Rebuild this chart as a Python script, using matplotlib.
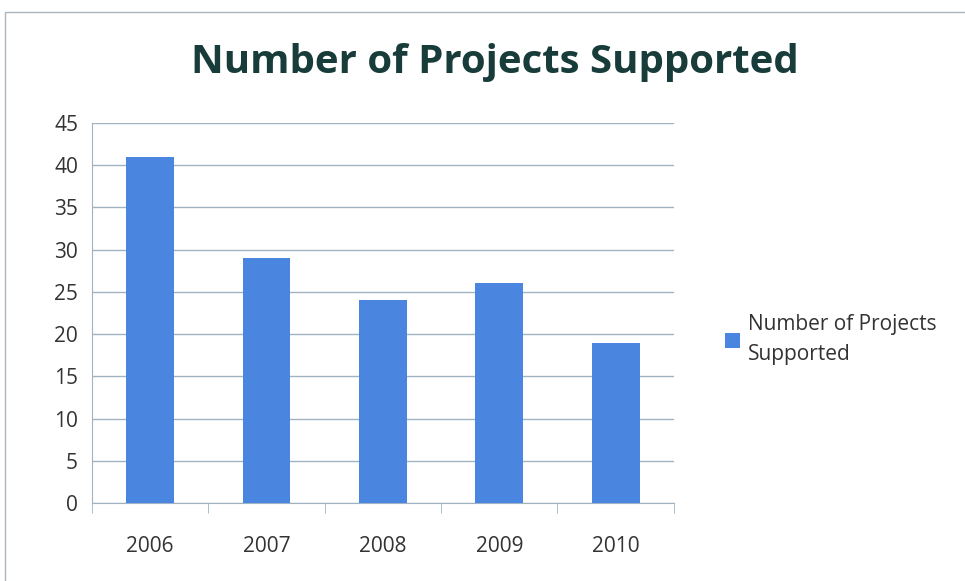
import matplotlib.pyplot as plt
from matplotlib.patches import Rectangle

years = ['2006', '2007', '2008', '2009', '2010']
projects = [41, 29, 24, 26, 19]
yticks = list(range(0, 50, 5))

plt.rcParams['font.family'] = ['Open Sans', 'DejaVu Sans']

fig = plt.figure(figsize=(9.65, 5.81), dpi=100)
ax = fig.add_axes([0.0953, 0.1343, 0.603, 0.654])

# outer chart frame (only top and left edges fall inside the canvas)
fig.patches.append(Rectangle((5 / 965, -0.1), 1.1, 1.1 - 12 / 581,
                             transform=fig.transFigure, fill=False,
                             edgecolor='#a9b4bc', linewidth=1.0))

x = range(len(years))
ax.bar(x, projects, width=0.41, color='#4a86e0', zorder=3,
       label='Number of Projects\nSupported')

ax.set_xlim(-0.5, len(years) - 0.5)
ax.set_ylim(0, 45)
ax.set_yticks(yticks)
ax.set_xticks(list(x))
ax.set_xticklabels(years)
ax.grid(axis='y', color='#9fb3c2', linewidth=1.0, zorder=0)

for side in ['top', 'right']:
    ax.spines[side].set_visible(False)
ax.spines['left'].set_color('#9fb3c2')
ax.spines['bottom'].set_color('#9fb3c2')

# category boundary ticks below the axis
ax.set_xticks([i - 0.5 for i in range(len(years) + 1)], minor=True)
ax.tick_params(axis='x', which='major', length=0, pad=24, labelsize=15, labelcolor='#333333')
ax.tick_params(axis='x', which='minor', length=7, color='#9fb3c2')
ax.tick_params(axis='y', length=0, pad=10, labelsize=15, labelcolor='#333333')

fig.text(0.513, 0.892, 'Number of Projects Supported', ha='center', va='center',
         fontsize=29, fontweight='bold', color='#173c3a')

fig.legend(loc='center left', bbox_to_anchor=(0.732, 0.415), frameon=False,
           fontsize=15, handlelength=0.7, handleheight=0.7, handletextpad=0.4,
           labelcolor='#333333', prop={'size': 15})
for t in fig.legends[0].get_texts():
    t.set_linespacing(1.55)

fig.savefig('out.png', dpi=100)
